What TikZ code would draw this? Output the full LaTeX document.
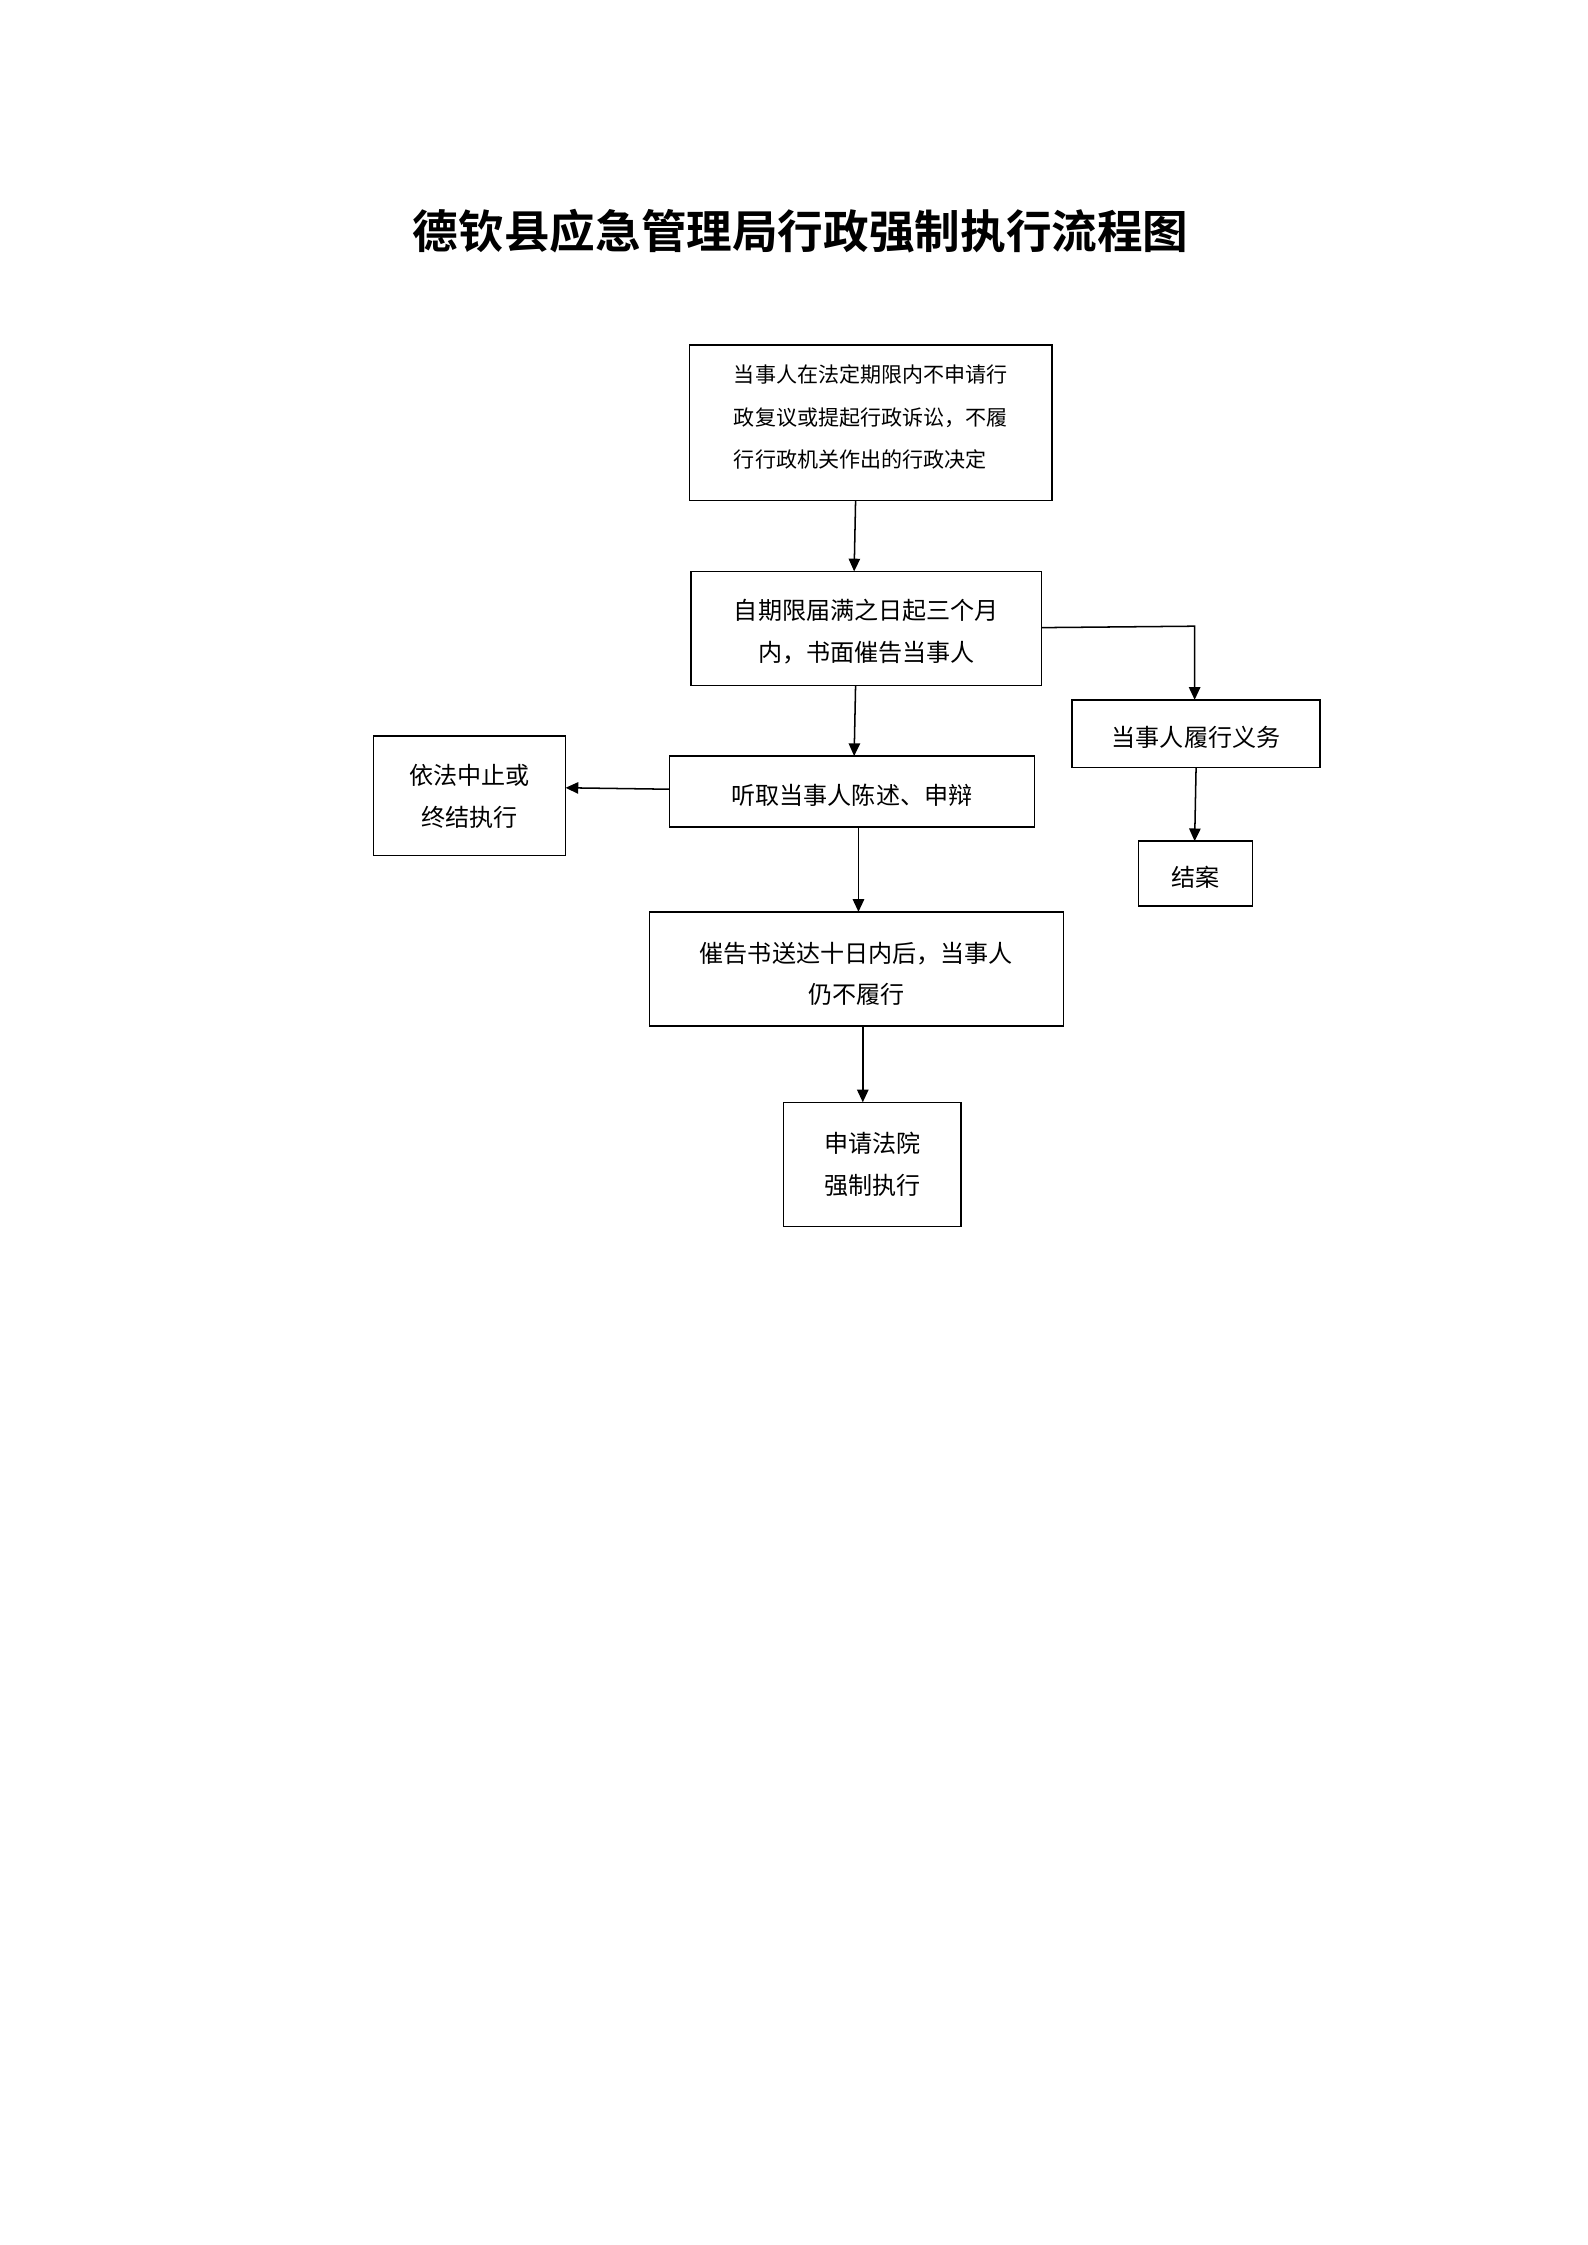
\documentclass[tikz,border=0pt]{standalone}
\usepackage{fontspec}
\setmainfont{Noto Sans CJK SC}
\newfontfamily\cjk{Noto Sans CJK SC}
\newfontfamily\cjkb{Noto Sans CJK SC Bold}
\usetikzlibrary{arrows.meta}
\begin{document}
\begin{tikzpicture}[x=0.02cm,y=-0.02cm,
  bx/.style={draw,line width=0.6pt,inner sep=0pt},
  tx/.style={font=\cjk\fontsize{9.5pt}{16.5pt}\selectfont,align=center},
  ar/.style={-{Triangle[length=5pt,width=4.5pt]},line width=0.6pt}]
\useasboundingbox (0,0) rectangle (1100,1556);
\node[font=\cjkb\fontsize{18pt}{20pt}\selectfont] (title) at (555,160) {德钦县应急管理局行政强制执行流程图};
\draw[bx] (478,239) rectangle (729,347);
\node[tx,font=\cjk\fontsize{8.3pt}{16.6pt}\selectfont,align=left] (n1) at (603.5,289) {当事人在法定期限内不申请行\\政复议或提起行政诉讼，不履\\行行政机关作出的行政决定};
\draw[bx] (479,396) rectangle (722,475);
\node[tx] (n2) at (600.5,438) {自期限届满之日起三个月\\内，书面催告当事人};
\draw[bx] (464,524) rectangle (717,573);
\node[tx] (n3) at (590.5,551) {听取当事人陈述、申辩};
\draw[bx] (259,510) rectangle (392,593);
\node[tx] (n4) at (325.5,552) {依法中止或\\终结执行};
\draw[bx] (450,632) rectangle (737,711);
\node[tx] (n5) at (593.5,675) {催告书送达十日内后，当事人\\仍不履行};
\draw[bx] (543,764) rectangle (666,850);
\node[tx] (n6) at (604.5,807) {申请法院\\强制执行};
\draw[bx] (743,485) rectangle (915,532);
\node[tx] (n7) at (829,511) {当事人履行义务};
\draw[bx] (789,583) rectangle (868,628);
\node[tx] (n8) at (828.5,608) {结案};
\coordinate (a1) at (593,347); \coordinate (b1) at (592,396);
\coordinate (a2) at (593,475); \coordinate (b2) at (592,524);
\coordinate (a3) at (464,547); \coordinate (b3) at (392,546);
\coordinate (a4) at (722,435); \coordinate (c4) at (828,434); \coordinate (b4) at (828,485);
\coordinate (a5) at (829,532); \coordinate (b5) at (828,583);
\coordinate (a6) at (595,573); \coordinate (b6) at (595,632);
\coordinate (a7) at (598,711); \coordinate (b7) at (598,764);
\draw[ar] (a1)--(b1);
\draw[ar] (a2)--(b2);
\draw[ar] (a3)--(b3);
\draw[ar] (a4)--(c4)--(b4);
\draw[ar] (a5)--(b5);
\draw[ar] (a6)--(b6);
\draw[ar] (a7)--(b7);
\end{tikzpicture}
\end{document}
